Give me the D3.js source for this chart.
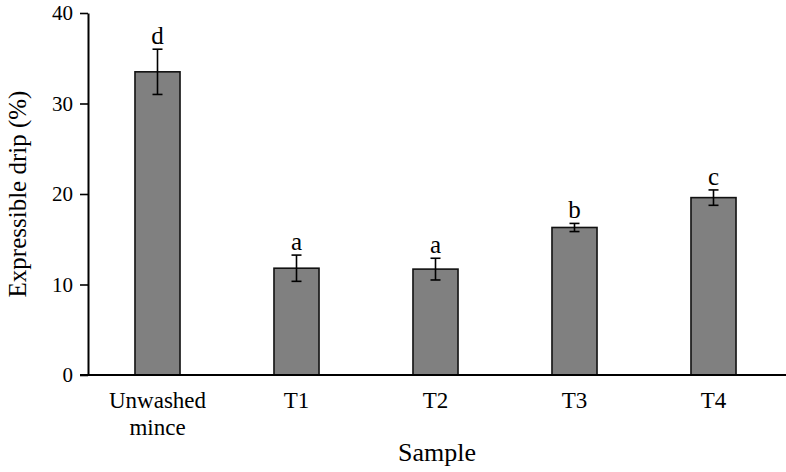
<!DOCTYPE html>
<html>
<head>
<meta charset="utf-8">
<script src="https://cdn.jsdelivr.net/npm/d3@7"></script>
<style>
  body { margin: 0; background: #fff; }
  svg text { font-family: "Liberation Serif", "Times New Roman", serif; fill: #000; }
</style>
</head>
<body>
<div id="chart"></div>
<script>
// data
const samples = ["Unwashed mince", "T1", "T2", "T3", "T4"];
const drip = [33.5, 11.8, 11.7, 16.3, 19.6];
const dripErr = [2.5, 1.45, 1.2, 0.45, 0.85];
const letters = ["d", "a", "a", "b", "c"];
const yTicks = [0, 10, 20, 30, 40];

const width = 786, height = 472;
const margin = { top: 13, right: 3, bottom: 97, left: 88 };

const svg = d3.select("#chart").append("svg")
  .attr("width", width)
  .attr("height", height);

const x = d3.scaleBand()
  .domain(samples)
  .range([margin.left, width - margin.right])
  .paddingInner(0.676)
  .paddingOuter(0.338);

const y = d3.scaleLinear()
  .domain([0, 40])
  .range([height - margin.bottom, margin.top]);

const data = samples.map((s, i) => ({ s: s, v: drip[i], e: dripErr[i], l: letters[i] }));

// bars
svg.append("g").selectAll("rect")
  .data(data)
  .enter().append("rect")
  .attr("x", d => x(d.s))
  .attr("y", d => y(d.v))
  .attr("width", x.bandwidth())
  .attr("height", d => y(0) - y(d.v))
  .attr("fill", "#808080")
  .attr("stroke", "#111")
  .attr("stroke-width", 1.6);

// error bars
const eb = svg.append("g").attr("stroke", "#000").attr("stroke-width", 1.6);
data.forEach(d => {
  let cx = x(d.s) + x.bandwidth() / 2;
  eb.append("line").attr("x1", cx).attr("x2", cx).attr("y1", y(d.v + d.e)).attr("y2", y(d.v - d.e));
  eb.append("line").attr("x1", cx - 5).attr("x2", cx + 5).attr("y1", y(d.v + d.e)).attr("y2", y(d.v + d.e));
  eb.append("line").attr("x1", cx - 5).attr("x2", cx + 5).attr("y1", y(d.v - d.e)).attr("y2", y(d.v - d.e));
});

// significance letters
svg.append("g").selectAll("text")
  .data(data)
  .enter().append("text")
  .attr("x", d => x(d.s) + x.bandwidth() / 2)
  .attr("y", d => y(d.v + d.e) - 5)
  .attr("text-anchor", "middle")
  .style("font-size", "25px")
  .text(d => d.l);

// y axis
const yAxis = svg.append("g")
  .attr("transform", "translate(" + margin.left + ",0)")
  .call(d3.axisLeft(y).tickValues(yTicks).tickSize(8).tickSizeOuter(0).tickPadding(7));
yAxis.select(".domain").attr("stroke", "#000").attr("stroke-width", 2);
yAxis.selectAll(".tick line").attr("stroke", "#000").attr("stroke-width", 1.6);
yAxis.selectAll(".tick text").style("font-size", "21px").style("font-family", "Liberation Serif");

// x axis line
svg.append("line")
  .attr("x1", margin.left - 8).attr("x2", width)
  .attr("y1", y(0)).attr("y2", y(0))
  .attr("stroke", "#000").attr("stroke-width", 2);

// category labels, split over two lines where needed
const catLabels = svg.append("g").selectAll("text")
  .data(samples)
  .enter().append("text")
  .attr("x", d => x(d) + x.bandwidth() / 2)
  .attr("y", 408)
  .attr("text-anchor", "middle")
  .style("font-size", "23px");
catLabels.each(function(d) {
  let words = d.split(" ");
  let t = d3.select(this);
  words.forEach((w, i) => {
    t.append("tspan")
      .attr("x", t.attr("x"))
      .attr("dy", i == 0 ? 0 : 27)
      .text(w);
  });
});

// axis titles
svg.append("text")
  .attr("x", (margin.left + width) / 2)
  .attr("y", 461)
  .attr("text-anchor", "middle")
  .style("font-size", "26px")
  .text("Sample");

svg.append("text")
  .attr("transform", "translate(26," + y(20) + ") rotate(-90)")
  .attr("text-anchor", "middle")
  .style("font-size", "25px")
  .text("Expressible drip (%)");
</script>
</body>
</html>
